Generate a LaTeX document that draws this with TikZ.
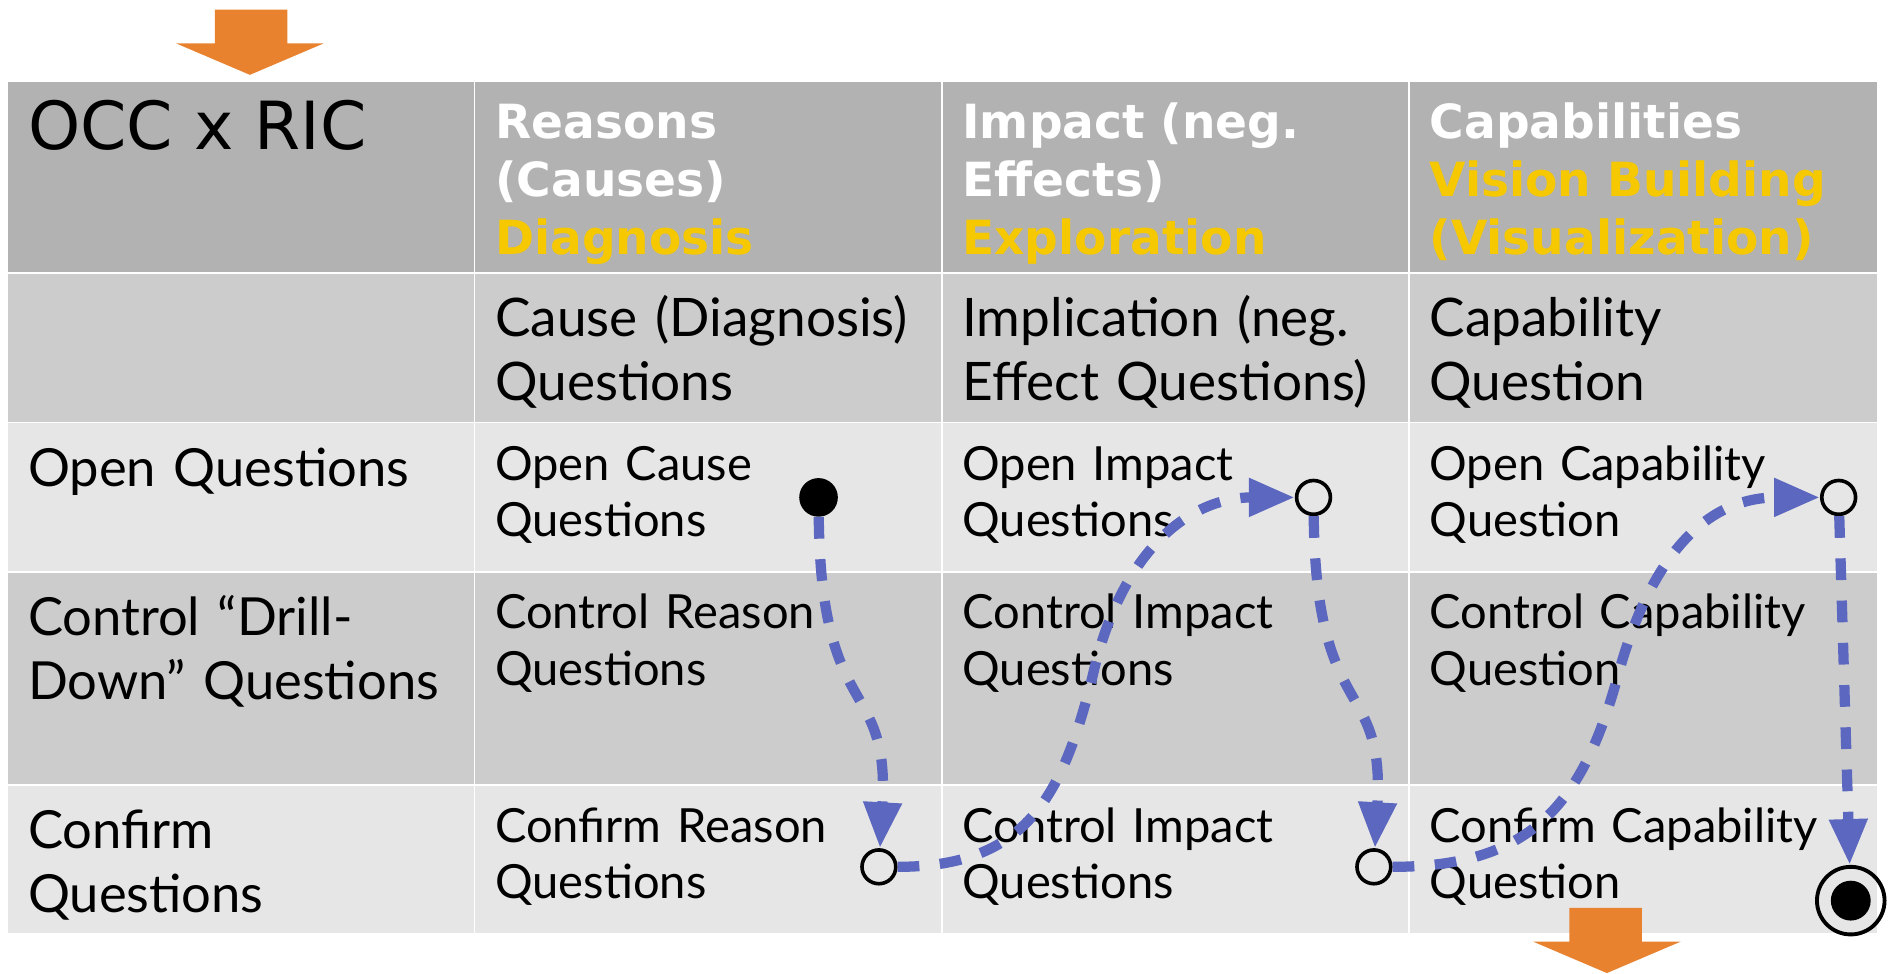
\documentclass[tikz,border=0pt]{standalone}
\usepackage{fontspec}
\setmainfont{Lato}
\newfontfamily\hdrfont{DejaVu Sans}
\usetikzlibrary{arrows.meta}
\definecolor{hdrgray}{HTML}{B2B2B2}
\definecolor{midgray}{HTML}{CCCCCC}
\definecolor{lightgrey}{HTML}{E6E6E6}
\definecolor{gold}{HTML}{F6C800}
\definecolor{flowblue}{HTML}{5C67BF}
\definecolor{orangearrow}{HTML}{E8822F}
\tikzset{
  celltext/.style={anchor=base west, inner sep=0pt, text width=370pt, align=left,
    font=\fontsize{39}{46.5}\selectfont},
  rowtwo/.style={anchor=base west, inner sep=0pt, text width=370pt, align=left,
    font=\fontsize{44}{53}\selectfont},
  rowlabel/.style={anchor=base west, inner sep=0pt, text width=370pt, align=left,
    font=\fontsize{43.5}{53}\selectfont},
  hdrtext/.style={anchor=base west, inner sep=0pt, text width=370pt, align=left,
    font=\hdrfont\bfseries\fontsize{39}{48}\selectfont, text=white},
  gridline/.style={white, line width=1.5pt},
  startdot/.style={circle, fill=black, minimum size=32pt, inner sep=0pt},
  opendot/.style={circle, draw=black, line width=3pt, minimum size=28pt, inner sep=0pt},
  enddot/.style={circle, draw=black, line width=3.2pt, minimum size=56pt, inner sep=0pt,
    path picture={\fill[black] (path picture bounding box.center) circle (16.5pt);}},
  flow/.style={flowblue, line width=8.5pt, dash pattern=on 18pt off 17pt,
    -{Triangle[length=38pt,width=30pt]}},
  bigarrow/.style={fill=orangearrow}
}
\begin{document}
\begin{tikzpicture}[x=1pt,y=-1pt]
\useasboundingbox (0,0) rectangle (1568,806);
% table backgrounds
\fill[hdrgray] (7,67) rectangle (1555,226);
\fill[midgray] (7,226) rectangle (1555,350);
\fill[lightgrey] (7,350) rectangle (1555,474);
\fill[midgray] (7,474) rectangle (1555,650);
\fill[lightgrey] (7,650) rectangle (1555,773);
% grid
\foreach \yy in {67,226,350,474,650}{\draw[gridline] (7,\yy) -- (1555,\yy);}
\foreach \xx in {393,780,1167}{\draw[gridline] (\xx,67) -- (\xx,773);}
% header
\node[anchor=base west, inner sep=0pt, font=\hdrfont\fontsize{55}{60}\selectfont] (occ) at (23,124) {OCC x RIC};
\node[hdrtext] (h1) at (410,115) {Reasons\\(Causes)\\\textcolor{gold}{Diagnosis}};
\node[hdrtext] (h2) at (797,115) {Impact (neg.\\Effects)\\\textcolor{gold}{Exploration}};
\node[hdrtext] (h3) at (1184,115) {Capabilities\\\textcolor{gold}{Vision Building}\\\textcolor{gold}{(Visualization)}};
% row 2
\node[rowtwo] (r2a) at (410,279) {Cause (Diagnosis)\\Questions};
\node[rowtwo] (r2b) at (797,279) {Implication (neg.\\Effect Questions)};
\node[rowtwo] (r2c) at (1184,279) {Capability\\Question};
% row labels
\node[rowlabel] (l3) at (23,403) {Open Questions};
\node[rowlabel] (l4) at (23,526) {Control “Drill-\\Down” Questions};
\node[rowlabel] (l5) at (23,703) {Confirm\\Questions};
% cells
\node[celltext] (c3a) at (410,398) {Open Cause\\Questions};
\node[celltext] (c3b) at (797,398) {Open Impact\\Questions};
\node[celltext] (c3c) at (1184,398) {Open Capability\\Question};
\node[celltext] (c4a) at (410,521) {Control Reason\\Questions};
\node[celltext] (c4b) at (797,521) {Control Impact\\Questions};
\node[celltext] (c4c) at (1184,521) {Control Capability\\Question};
\node[celltext] (c5a) at (410,698) {Confirm Reason\\Questions};
\node[celltext] (c5b) at (797,698) {Control Impact\\Questions};
\node[celltext] (c5c) at (1184,698) {Confirm Capability\\Question};
% orange arrows
\fill[bigarrow] (178,8) -- (238,8) -- (238,36) -- (268,36) -- (207,62) -- (146,36) -- (178,36) -- cycle;
\fill[bigarrow] (1300,752) -- (1360,752) -- (1360,780) -- (1392,780) -- (1331,806) -- (1270,780) -- (1300,780) -- cycle;
% markers
\node[startdot] (s) at (678,412) {};
\node[opendot] (a) at (728,718) {};
\node[opendot] (b) at (1088,412) {};
\node[opendot] (c) at (1138,718) {};
\node[opendot] (d) at (1523,412) {};
\node[enddot] (e) at (1533,746) {};
% flow
\draw[flow] (s) .. controls (680,600) and (737,560) .. (a);
\draw[flow] (a) .. controls (850,718) and (880,660) .. (905,560) .. controls (930,450) and (990,412) .. (b);
\draw[flow] (b) .. controls (1090,600) and (1147,560) .. (c);
\draw[flow] (c) .. controls (1265,718) and (1310,670) .. (1340,560) .. controls (1370,450) and (1420,412) .. (d);
\draw[flow] (d) -- (e);
\end{tikzpicture}
\end{document}
